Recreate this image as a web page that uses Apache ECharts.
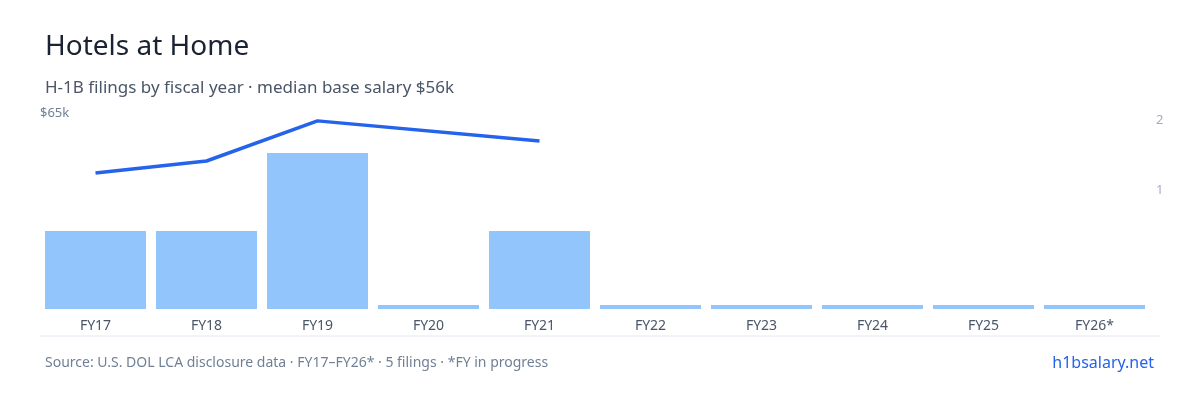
<!DOCTYPE html>
<html><head><meta charset="utf-8">
<script src="https://cdn.jsdelivr.net/npm/echarts@6/dist/echarts.min.js"></script>
<style>html,body{margin:0;padding:0;background:#fff}#c{width:1200px;height:400px}</style>
</head><body><div id="c"></div>
<script>
const categories=['FY17','FY18','FY19','FY20','FY21','FY22','FY23','FY24','FY25','FY26*'];
const filings=[1,1,2,0,1,0,0,0,0,0];
const salaryK=[46.8,50.9,64.7,null,57.8,null,null,null,null,null];
const font='"Noto Sans", sans-serif';
const chart=echarts.init(document.getElementById('c'));
chart.setOption({
  animation:false,
  textStyle:{fontFamily:font},
  title:[{text:'Hotels at Home',left:40,top:28,textStyle:{fontSize:28,fontWeight:'normal',color:'#1a2233',fontFamily:font}},
    {text:'H-1B filings by fiscal year · median base salary $56k',left:40,top:75,textStyle:{fontSize:17,fontWeight:'normal',color:'#4a5568',fontFamily:font}},
    {text:'Source: U.S. DOL LCA disclosure data · FY17–FY26* · 5 filings · *FY in progress',left:40,top:351,textStyle:{fontSize:14,fontWeight:'normal',color:'#718096',fontFamily:font}},
    {text:'h1bsalary.net',right:41,top:350,textStyle:{fontSize:16,fontWeight:'normal',color:'#2563eb',fontFamily:font}}],
  grid:{left:40,right:50,top:120,bottom:91},
  xAxis:{type:'category',data:categories,axisLine:{show:false},axisTick:{show:false},
    axisLabel:{color:'#4a5568',fontSize:14,margin:10}},
  yAxis:[
    {type:'value',min:0,max:65,interval:65,position:'left',splitLine:{show:false},axisLine:{show:false},axisTick:{show:false},
      axisLabel:{inside:true,verticalAlign:'bottom',margin:0,color:'#718096',fontSize:13,formatter:v=>v===65?'$65k':''}},
    {type:'value',min:0,max:2.423,position:'right',show:false},
    {type:'value',min:-0.7,max:2,interval:0.1,position:'right',splitLine:{show:false},axisLine:{show:false},axisTick:{show:false},
      axisLabel:{color:'#a0aec0',fontSize:13,margin:6,formatter:v=>{const r=Math.round(v);return (Math.abs(v-r)<1e-6&&r>=1)?String(r):'';}}}
  ],
  series:[
    {type:'bar',yAxisIndex:1,data:filings,barCategoryGap:'9%',barMinHeight:4,itemStyle:{color:'#93c5fd'}},
    {type:'line',yAxisIndex:0,data:salaryK,connectNulls:true,symbol:'none',lineStyle:{color:'#2563eb',width:3.5}},
    {type:'line',yAxisIndex:2,data:[],silent:true}
  ],
  graphic:[{type:'line',shape:{x1:40,y1:336,x2:1160,y2:336},style:{stroke:'#e2e8f0',lineWidth:1}}]
});
</script></body></html>
